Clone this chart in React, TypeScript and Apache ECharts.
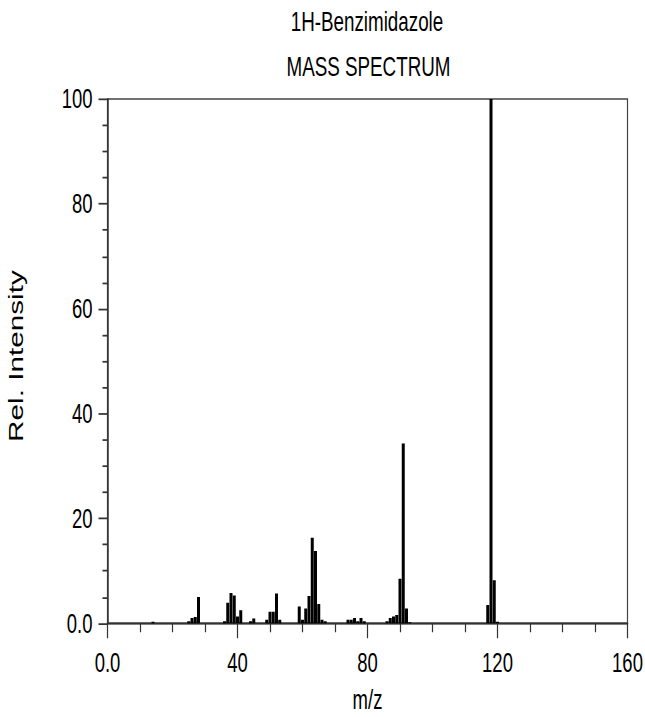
import React, { useEffect, useRef } from "react";
import * as echarts from "echarts";

// Peak positions (m/z) and relative intensities
const mz = [
  14, 25, 26, 27, 28, 36, 37, 38, 39, 40, 41, 44, 45, 49, 50, 51, 52, 53,
  59, 60, 61, 62, 63, 64, 65, 66, 67, 74, 75, 76, 77, 78, 79,
  86, 87, 88, 89, 90, 91, 92, 93, 117, 118, 119, 120,
];
const intensity = [
  0.3, 0.4, 1.0, 1.2, 5.0, 0.4, 3.9, 5.8, 5.3, 1.3, 2.5, 0.4, 0.9, 0.7, 2.2, 2.2, 5.7, 0.7,
  3.2, 0.7, 2.8, 5.2, 16.3, 13.8, 3.7, 0.7, 0.4, 0.7, 0.7, 1.0, 0.4, 1.0, 0.4,
  0.4, 1.0, 1.3, 1.6, 8.5, 34.3, 2.8, 0.2, 3.5, 100, 8.2, 0.3,
];
const titleLines = ["1H-Benzimidazole", "MASS SPECTRUM"];
const xAxisName = "m/z";
const yAxisName = "Rel. Intensity";
const xRange = [0, 160];
const yRange = [0, 100];

const S = 1.45; // vertical stretch of the reference rendering
const W = 645;
const H = 717 / S;

export default function App() {
  const ref = useRef<HTMLDivElement>(null);
  useEffect(() => {
    document.body.style.margin = "0";
    const chart = echarts.init(ref.current!, null, { renderer: "svg" });
    const font = "'Liberation Sans', Arial, sans-serif";
    const fmt = (v: number) => (v === 0 ? "0.0" : String(v));
    const lineCol = "#333";
    chart.setOption({
      animation: false,
      backgroundColor: "#fff",
      textStyle: { fontFamily: font },
      grid: {
        left: 107.5,
        right: 17.5,
        top: 99 / S,
        bottom: 93 / S,
        containLabel: false,
        outerBoundsMode: "none",
        show: true,
        borderColor: "#444",
        borderWidth: 1.2,
      },
      graphic: [
        {
          type: "text",
          x: 367,
          y: 21.7 / S,
          style: {
            text: titleLines[0],
            fontSize: 18.8,
            fontFamily: font,
            fill: "#000",
            align: "center",
            verticalAlign: "middle",
          },
        },
        {
          type: "text",
          x: 368.5,
          y: 66.3 / S,
          style: {
            text: titleLines[1],
            fontSize: 18.8,
            fontFamily: font,
            fill: "#000",
            align: "center",
            verticalAlign: "middle",
          },
        },
      ],
      xAxis: {
        type: "value",
        min: xRange[0],
        max: xRange[1],
        interval: 40,
        name: xAxisName,
        nameLocation: "middle",
        nameGap: 43,
        nameTextStyle: { fontSize: 18.5, color: "#000", fontFamily: font },
        axisLine: { show: true, onZero: false, lineStyle: { color: lineCol, width: 1.5 } },
        axisTick: { show: true, length: 15 / S, lineStyle: { color: lineCol, width: 1.2 } },
        minorTick: { show: true, splitNumber: 4, length: 9 / S, lineStyle: { color: lineCol, width: 1.2 } },
        axisLabel: { formatter: fmt, fontSize: 18.5, color: "#000", margin: 17.5, fontFamily: font },
        splitLine: { show: false },
        minorSplitLine: { show: false },
      },
      yAxis: {
        type: "value",
        min: yRange[0],
        max: yRange[1],
        interval: 20,
        name: yAxisName,
        nameLocation: "middle",
        nameGap: 81,
        nameTextStyle: { fontSize: 20.5, color: "#000", fontFamily: font, padding: [0, 0, 0, 7] },
        axisLine: { show: true, onZero: false, lineStyle: { color: lineCol, width: 1.5 } },
        axisTick: { show: true, length: 9, lineStyle: { color: lineCol, width: 1.2 } },
        minorTick: { show: true, splitNumber: 4, length: 5, lineStyle: { color: lineCol, width: 1.2 } },
        axisLabel: { formatter: fmt, fontSize: 18.5, color: "#000", margin: 15, fontFamily: font },
        splitLine: { show: false },
        minorSplitLine: { show: false },
      },
      series: [
        {
          type: "bar",
          data: mz.map((m, i) => [m, intensity[i]]),
          barWidth: 3,
          itemStyle: { color: "#000" },
        },
      ],
    });
    return () => chart.dispose();
  }, []);
  return (
    <div
      ref={ref}
      style={{
        position: "absolute",
        left: 0,
        top: 0,
        width: W,
        height: H,
        transform: `scaleY(${S})`,
        transformOrigin: "0 0",
      }}
    />
  );
}
